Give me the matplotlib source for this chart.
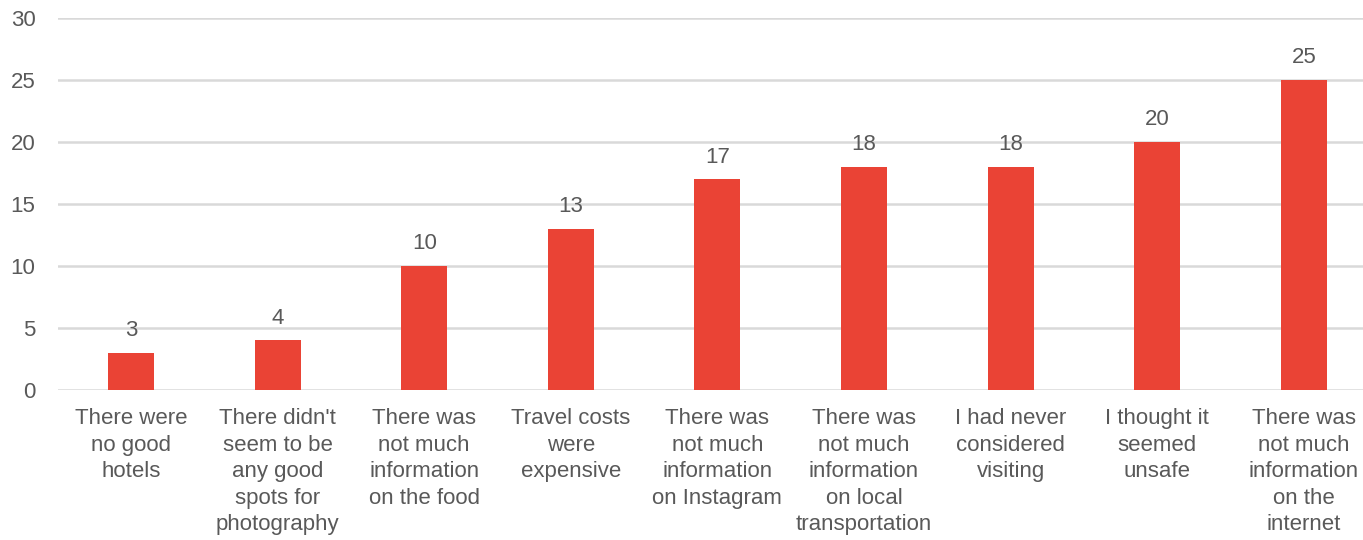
import matplotlib
matplotlib.use("Agg")
import matplotlib.pyplot as plt

# Reasons for not visiting, with response counts
reasons = [
    "There were\nno good\nhotels",
    "There didn't\nseem to be\nany good\nspots for\nphotography",
    "There was\nnot much\ninformation\non the food",
    "Travel costs\nwere\nexpensive",
    "There was\nnot much\ninformation\non Instagram",
    "There was\nnot much\ninformation\non local\ntransportation",
    "I had never\nconsidered\nvisiting",
    "I thought it\nseemed\nunsafe",
    "There was\nnot much\ninformation\non the\ninternet",
]
counts = [3, 4, 10, 13, 17, 18, 18, 20, 25]
y_ticks = [0, 5, 10, 15, 20, 25, 30]

bar_color = "#EA4335"
text_color = "#595959"
grid_color = "#D9D9D9"

plt.rcParams["font.family"] = ["Liberation Sans", "DejaVu Sans"]

fig = plt.figure(figsize=(13.63, 5.4), dpi=100)
ax = fig.add_axes([57.7 / 1363, 150 / 540, 1319.4 / 1363, 372 / 540])

x = range(len(counts))
bars = ax.bar(x, counts, width=0.315, color=bar_color, zorder=3)

for xi, v in zip(x, counts):
    ax.annotate(str(v), (xi, v), xytext=(0, 12), textcoords="offset points",
                ha="center", va="baseline", fontsize=16, color=text_color)

ax.set_xlim(-0.5, len(counts) - 0.5)
ax.set_ylim(0, 30)
ax.set_yticks(y_ticks)
ax.set_xticks(list(x))
ax.set_xticklabels(reasons, fontsize=16, color=text_color, linespacing=1.35)
ax.tick_params(axis="y", labelsize=16, labelcolor=text_color, length=0, pad=16)
ax.tick_params(axis="x", length=0, pad=13)

ax.grid(axis="y", color=grid_color, linewidth=1.8, zorder=0)
for s in ax.spines.values():
    s.set_visible(False)

fig.savefig("out.png", dpi=100)
plt.close(fig)
